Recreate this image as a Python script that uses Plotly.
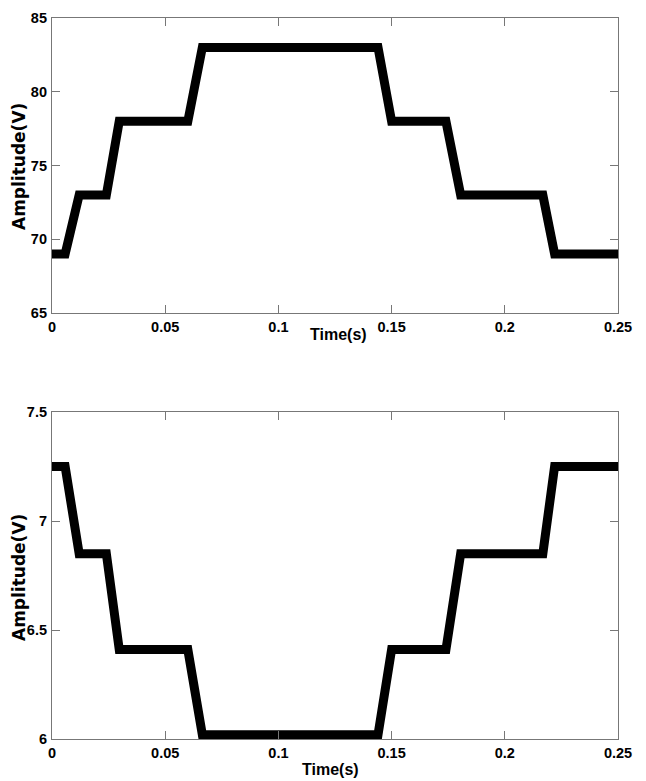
import plotly.graph_objects as go

# Data
time_s = [0, 0.0058, 0.012, 0.024, 0.0297, 0.060, 0.0664, 0.144, 0.150, 0.174, 0.1805, 0.2168, 0.222, 0.25]
amp_top = [69, 69, 73, 73, 78, 78, 83, 83, 78, 78, 73, 73, 69, 69]
amp_bottom = [7.25, 7.25, 6.85, 6.85, 6.41, 6.41, 6.02, 6.02, 6.41, 6.41, 6.85, 6.85, 7.25, 7.25]

x_ticks = [0, 0.05, 0.1, 0.15, 0.2, 0.25]
x_ticklabels = ["0", "0.05", "0.1", "0.15", "0.2", "0.25"]
y_top_ticks = [65, 70, 75, 80, 85]
y_bottom_ticks = [6, 6.5, 7, 7.5]
y_bottom_ticklabels = ["6", "6.5", "7", "7.5"]

W, H = 646, 781
def px_x(p):
    return p / W
def px_y(p):
    return 1 - p / H

tick_font = dict(family="Liberation Sans Narrow, Arial Narrow, Liberation Sans, Arial", size=14.5, color="black", weight="bold")

fig = go.Figure()
fig.add_trace(go.Scatter(x=time_s, y=amp_top, mode="lines", line=dict(color="black", width=9),
                         xaxis="x", yaxis="y", showlegend=False))
fig.add_trace(go.Scatter(x=time_s, y=amp_bottom, mode="lines", line=dict(color="black", width=9),
                         xaxis="x2", yaxis="y2", showlegend=False))

axis_common = dict(showgrid=False, zeroline=False, showline=True, linecolor="#777", linewidth=1.2,
                   mirror="ticks", ticks="inside", ticklen=8, tickcolor="#777", tickfont=tick_font,
                   automargin=False)

fig.update_layout(
    width=W, height=H,
    margin=dict(l=0, r=0, t=0, b=0),
    paper_bgcolor="white", plot_bgcolor="white",
    xaxis=dict(domain=[px_x(52), px_x(618)], range=[0, 0.25], tickvals=x_ticks, ticktext=x_ticklabels,
               anchor="y", ticklabelstandoff=0, **axis_common),
    yaxis=dict(domain=[px_y(313), px_y(18)], range=[65, 85], tickvals=y_top_ticks,
               anchor="x", ticklabelstandoff=1, **axis_common),
    xaxis2=dict(domain=[px_x(52), px_x(618)], range=[0, 0.25], tickvals=x_ticks, ticktext=x_ticklabels,
                anchor="y2", ticklabelstandoff=0, **axis_common),
    yaxis2=dict(domain=[px_y(739), px_y(412)], range=[6, 7.5], tickvals=y_bottom_ticks,
                ticktext=y_bottom_ticklabels, anchor="x2", ticklabelstandoff=1, **axis_common),
)

title_font_x = dict(family="Liberation Sans Narrow, Arial Narrow, Liberation Sans, Arial", size=16, color="black", weight="bold")
title_font_y = dict(family="DejaVu Sans, Verdana", size=17, color="black", weight="bold")

fig.add_annotation(x=px_x(338), y=px_y(334), xref="paper", yref="paper", text="Time(s)",
                   showarrow=False, font=title_font_x, xanchor="center", yanchor="middle")
fig.add_annotation(x=px_x(330), y=px_y(769), xref="paper", yref="paper", text="Time(s)",
                   showarrow=False, font=title_font_x, xanchor="center", yanchor="middle")
fig.add_annotation(x=px_x(19), y=px_y(167), xref="paper", yref="paper", text="Amplitude(V)",
                   showarrow=False, font=title_font_y, textangle=-90, xanchor="center", yanchor="middle")
fig.add_annotation(x=px_x(19), y=px_y(578), xref="paper", yref="paper", text="Amplitude(V)",
                   showarrow=False, font=title_font_y, textangle=-90, xanchor="center", yanchor="middle")

fig.write_html("out.html", config={"displayModeBar": False},
               post_script="document.body.style.margin='0';document.body.style.overflow='hidden';")
